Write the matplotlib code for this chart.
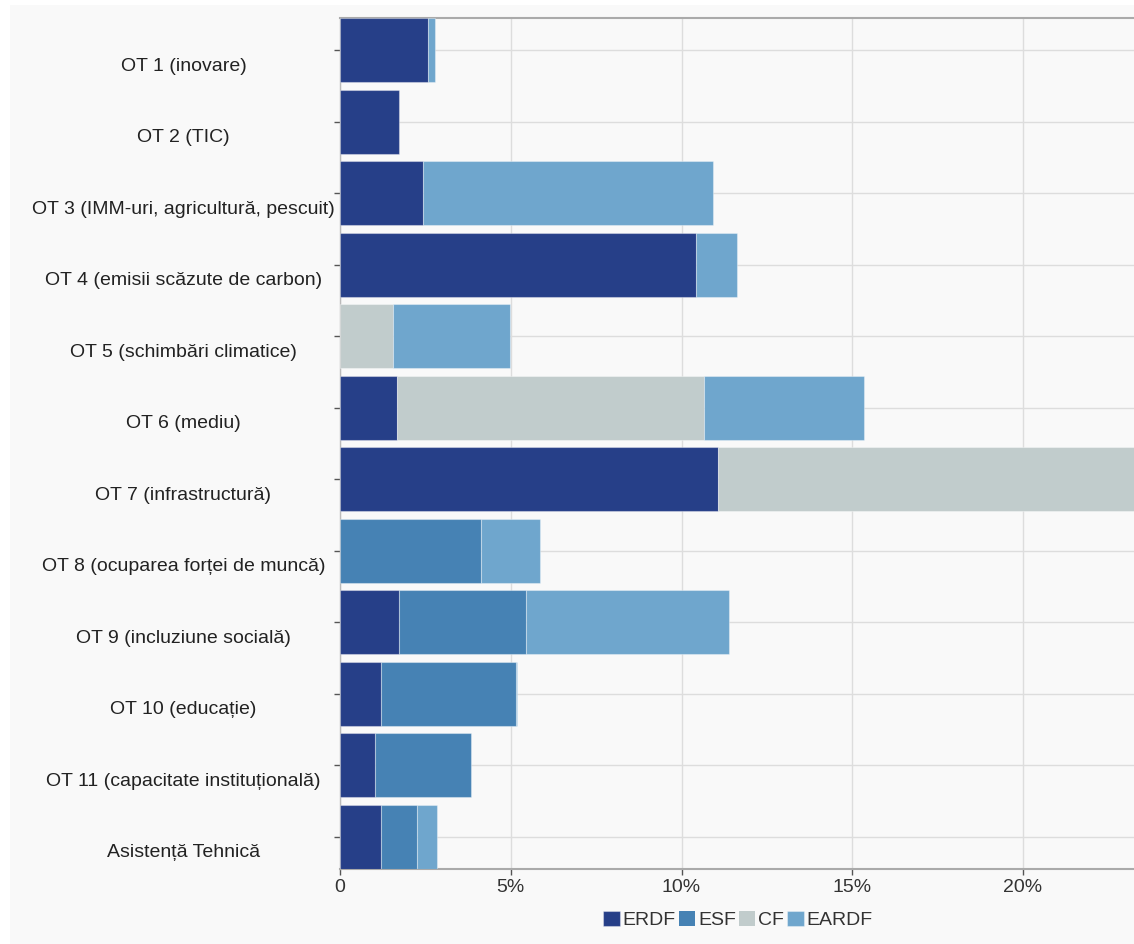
import numpy as np
import matplotlib
matplotlib.use("Agg")
import matplotlib.pyplot as plt
import matplotlib.transforms as mtransforms
from matplotlib.patches import Rectangle

plt.rcParams['font.family'] = ['Liberation Sans', 'DejaVu Sans']

# categories (top to bottom) and shares per fund, in %
categories = [
    "OT 1 (inovare)",
    "OT 2 (TIC)",
    "OT 3 (IMM-uri, agricultură, pescuit)",
    "OT 4 (emisii scăzute de carbon)",
    "OT 5 (schimbări climatice)",
    "OT 6 (mediu)",
    "OT 7 (infrastructură)",
    "OT 8 (ocuparea forței de muncă)",
    "OT 9 (incluziune socială)",
    "OT 10 (educație)",
    "OT 11 (capacitate instituțională)",
    "Asistență Tehnică",
]
erdf = [2.59, 1.73, 2.42, 10.41, 0.0, 1.67, 11.06, 0.0, 1.73, 1.20, 1.03, 1.20]
esf = [0.0, 0.0, 0.0, 0.0, 0.0, 0.0, 0.0, 4.13, 3.71, 3.96, 2.82, 1.06]
cf = [0.0, 0.0, 0.0, 0.0, 1.56, 9.00, 13.50, 0.0, 0.0, 0.0, 0.0, 0.0]
eardf = [0.20, 0.0, 8.49, 1.22, 3.43, 4.67, 0.0, 1.74, 5.95, 0.03, 0.0, 0.58]

series = [("ERDF", erdf, "#263f88"),
          ("ESF", esf, "#4682b4"),
          ("CF", cf, "#c1cccc"),
          ("EARDF", eardf, "#6fa6cd")]
xticks = [0, 5, 10, 15, 20]
xticklabels = ["0", "5%", "10%", "15%", "20%"]

W, H = 1134, 944
fig = plt.figure(figsize=(W / 100, H / 100), dpi=100, facecolor="#f9f9f9")
# white margin strips at top and left
fig.patches.append(Rectangle((0, 0), 10 / W, 1, transform=fig.transFigure,
                             facecolor="white", edgecolor="none", zorder=-1))
fig.patches.append(Rectangle((0, 1 - 5 / H), 1, 5 / H, transform=fig.transFigure,
                             facecolor="white", edgecolor="none", zorder=-1))

ax = fig.add_axes([340 / W, (H - 869) / H, (W - 340) / W, (869 - 18) / H])
ax.set_facecolor("#f9f9f9")

y = np.arange(len(categories))
left = np.zeros(len(categories))
handles = []
for name, vals, col in series:
    vals = np.array(vals)
    lw = np.where(vals > 0, 0.8, 0.0)
    b = ax.barh(y, vals, left=left, height=0.9, color=col,
                edgecolor=(1, 1, 1, 0.35), linewidth=lw, label=name, zorder=3)
    handles.append(b)
    left = left + vals

ax.set_ylim(len(categories) - 0.55, -0.45)
ax.set_xlim(0, 23.25)

ax.set_xticks(xticks)
ax.set_xticklabels(xticklabels, fontsize=14, color="#333333")
ax.set_yticks(y)
ax.set_yticklabels(categories, fontsize=14, color="#222222", ha="center")
ax.tick_params(axis="y", length=4, width=1, color="#555555",
               pad=(340 - 5 - 184) * 0.72)
ax.tick_params(axis="x", length=4, width=1, color="#555555", pad=3)
# labels sit a bit below their ticks in the reference
shift = mtransforms.ScaledTranslation(0, -0.14, fig.dpi_scale_trans)
for lab in ax.get_yticklabels():
    lab.set_transform(lab.get_transform() + shift)

ax.grid(True, color="#dddddd", linewidth=1, zorder=0)
ax.set_axisbelow(True)
for side in ["top", "bottom"]:
    ax.spines[side].set_color("#aaaaaa")
    ax.spines[side].set_linewidth(1.5)
ax.spines["left"].set_color("#bbbbbb")
ax.spines["left"].set_linewidth(1)
ax.spines["right"].set_visible(False)

fig.legend(handles=handles, loc="center", bbox_to_anchor=(738 / W, 1 - 920 / H),
           ncol=4, frameon=False, fontsize=14, handlelength=0.85,
           handleheight=0.85, handletextpad=0.15, columnspacing=0.15,
           labelcolor="#333333")

fig.savefig("out.png", dpi=100, facecolor=fig.get_facecolor())
